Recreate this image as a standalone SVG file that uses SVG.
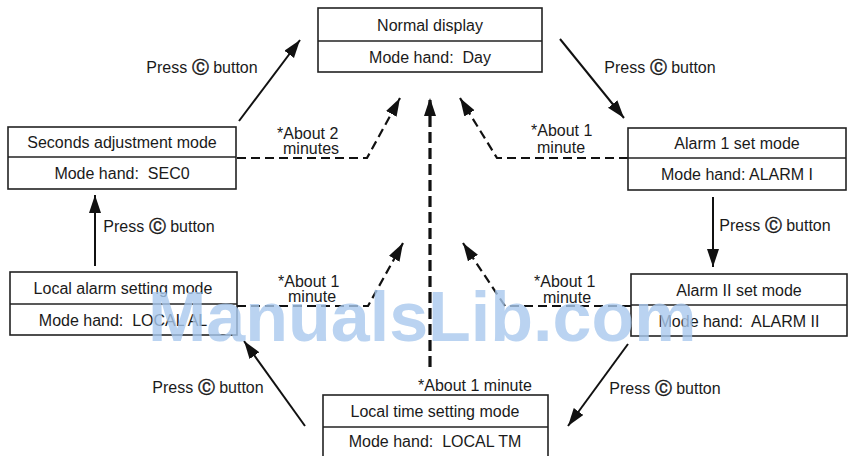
<svg xmlns="http://www.w3.org/2000/svg" width="848" height="456" viewBox="0 0 848 456">
<defs>
<marker id="ah" markerUnits="userSpaceOnUse" markerWidth="20" markerHeight="14" refX="18" refY="6" orient="auto">
<path d="M0,0 L18,6 L0,12 Z" fill="#111"/>
</marker>
<style>
.box{fill:#fff;stroke:#222;stroke-width:1.6}
.div{stroke:#222;stroke-width:1.4}
text{font-family:"Liberation Sans",Arial,sans-serif;font-size:16px;fill:#1a1a1a}
.c{text-anchor:middle}
.cc{font-family:"DejaVu Sans",sans-serif;font-size:17px;stroke:#1a1a1a;stroke-width:0.5}
.solid{fill:none;stroke:#111;stroke-width:2;marker-end:url(#ah)}
.dash{fill:none;stroke:#111;stroke-width:2.2;stroke-dasharray:9 5;marker-end:url(#ah)}
.wm{font-family:"Liberation Sans",Arial,sans-serif;font-weight:bold;font-size:70px;fill:#a9c9ee;opacity:0.8}
</style>
</defs>
<rect width="848" height="456" fill="#fff"/>

<g id="connectors">
<line class="solid" x1="239" y1="121" x2="300" y2="40"/>
<line class="solid" x1="560" y1="39" x2="624" y2="118"/>
<line class="solid" x1="713" y1="197" x2="713" y2="267"/>
<line class="solid" x1="628" y1="344" x2="568" y2="426"/>
<line class="solid" x1="305" y1="426" x2="244" y2="341"/>
<line class="solid" x1="95" y1="266" x2="95" y2="195"/>
<polyline class="dash" points="237,158 367,158 400,98"/>
<polyline class="dash" points="628,158 497,158 460,98"/>
<polyline class="dash" points="237,306 368,306 403,243"/>
<polyline class="dash" points="631,306 505,306 463,243"/>
<line class="dash" x1="430" y1="367" x2="430" y2="98" style="stroke-width:3.2;stroke-dasharray:11 5"/>
<text class="c" x="202" y="73">Press <tspan class="cc">Ⓒ</tspan> button</text>
<text class="c" x="660" y="73">Press <tspan class="cc">Ⓒ</tspan> button</text>
<text class="c" x="775" y="231">Press <tspan class="cc">Ⓒ</tspan> button</text>
<text class="c" x="159" y="232">Press <tspan class="cc">Ⓒ</tspan> button</text>
<text class="c" x="208" y="393">Press <tspan class="cc">Ⓒ</tspan> button</text>
<text class="c" x="665" y="394">Press <tspan class="cc">Ⓒ</tspan> button</text>
<text x="277" y="139">*About 2</text>
<text x="283" y="154">minutes</text>
<text x="531" y="136">*About 1</text>
<text x="537" y="153">minute</text>
<text x="278" y="287">*About 1</text>
<text x="288" y="302">minute</text>
<text x="534" y="287">*About 1</text>
<text x="543" y="303">minute</text>
<text x="418" y="391">*About 1 minute</text>
</g>

<g id="normal">
<rect class="box" x="318" y="8" width="224" height="64"/>
<line class="div" x1="318" y1="41" x2="542" y2="41"/>
<text class="c" x="430" y="31">Normal display</text>
<text class="c" x="430" y="63" xml:space="preserve">Mode hand:  Day</text>
</g>

<g id="seconds">
<rect class="box" x="8" y="127" width="228" height="62"/>
<line class="div" x1="8" y1="157" x2="236" y2="157"/>
<text class="c" x="122" y="148">Seconds adjustment mode</text>
<text class="c" x="122" y="179" xml:space="preserve">Mode hand:  SEC0</text>
</g>

<g id="alarm1">
<rect class="box" x="628" y="128" width="218" height="62"/>
<line class="div" x1="628" y1="158" x2="846" y2="158"/>
<text class="c" x="737" y="149">Alarm 1 set mode</text>
<text class="c" x="737" y="180">Mode hand: ALARM I</text>
</g>

<g id="localalarm">
<rect class="box" x="10" y="272" width="227" height="63"/>
<line class="div" x1="10" y1="304" x2="237" y2="304"/>
<text class="c" x="123" y="294">Local alarm setting mode</text>
<text class="c" x="123" y="326" xml:space="preserve">Mode hand:  LOCAL AL</text>
</g>

<g id="alarm2">
<rect class="box" x="631" y="274" width="216" height="62"/>
<line class="div" x1="631" y1="305" x2="847" y2="305"/>
<text class="c" x="739" y="296">Alarm II set mode</text>
<text class="c" x="739" y="327" xml:space="preserve">Mode hand:  ALARM II</text>
</g>

<g id="localtime">
<rect class="box" x="323" y="395" width="225" height="64"/>
<line class="div" x1="323" y1="427" x2="548" y2="427"/>
<text class="c" x="435" y="417">Local time setting mode</text>
<text class="c" x="435" y="447" xml:space="preserve">Mode hand:  LOCAL TM</text>
</g>

<text class="wm" x="148" y="341">ManualsLib.com</text>
</svg>
